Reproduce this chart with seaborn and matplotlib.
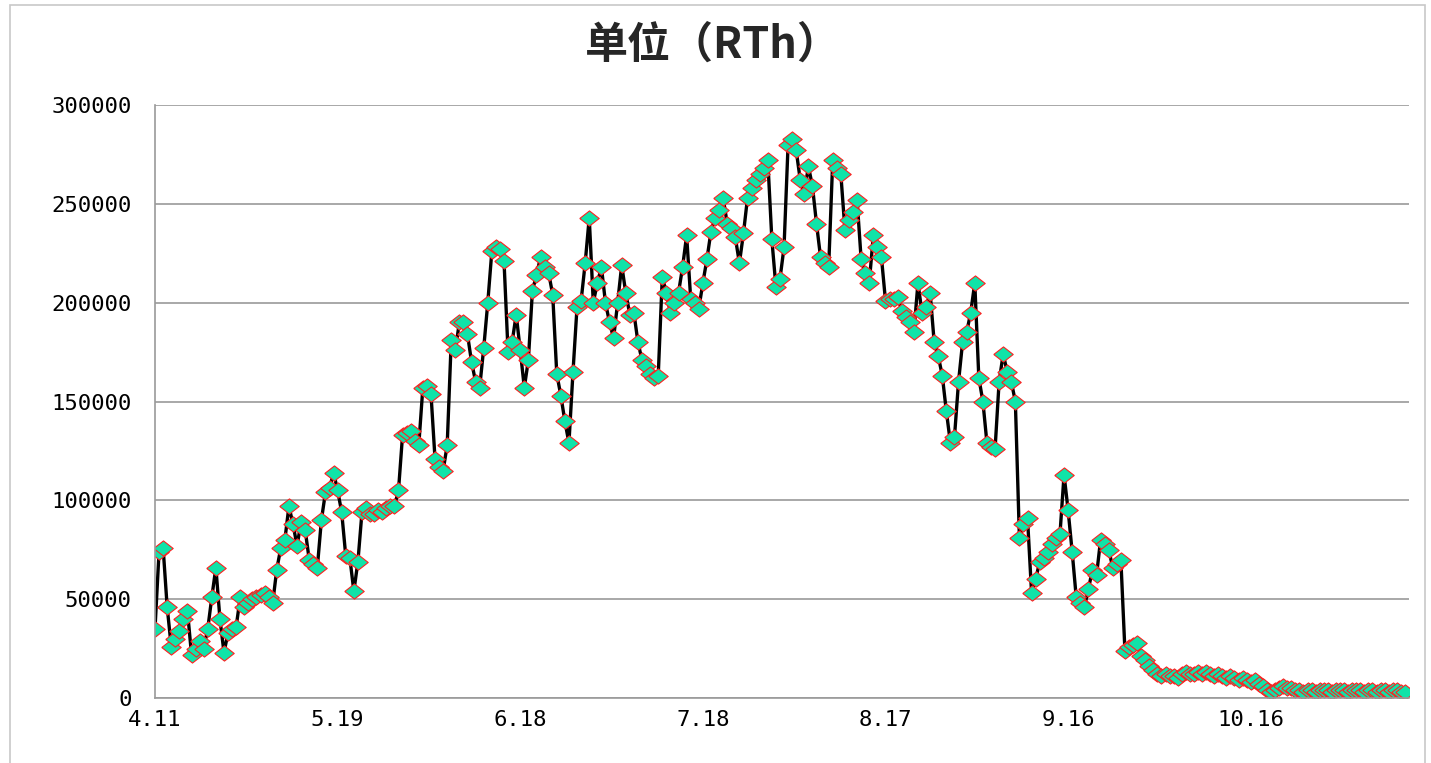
import numpy as np
import pandas as pd
import matplotlib
matplotlib.use("Agg")
import matplotlib.pyplot as plt
import seaborn as sns
from matplotlib.patches import Rectangle

# ---- data (values in thousands, RTh) ----
values_k = [
    35, 74, 76, 46, 26, 30, 34, 40, 44, 22,
    25, 29, 25, 35, 51, 66, 40, 23, 33, 35,
    36, 51, 46, 48, 50, 51, 52, 53, 51, 48,
    65, 76, 80, 97, 88, 77, 89, 85, 70, 68,
    66, 90, 104, 106, 114, 105, 94, 72, 71, 54,
    69, 94, 96, 93, 93, 95, 94, 96, 97, 97,
    105, 133, 134, 135, 130, 128, 157, 158, 154, 121,
    117, 115, 128, 181, 176, 190, 190, 184, 170, 160,
    157, 177, 200, 226, 228, 227, 221, 175, 180, 194,
    176, 157, 171, 206, 214, 223, 218, 215, 204, 164,
    153, 140, 129, 165, 198, 201, 220, 243, 200, 210,
    218, 200, 190, 182, 200, 219, 205, 194, 195, 180,
    171, 168, 164, 162, 163, 213, 205, 195, 200, 205,
    218, 234, 202, 200, 197, 210, 222, 236, 243, 247,
    253, 240, 238, 233, 220, 235, 253, 258, 262, 265,
    268, 272, 232, 208, 212, 228, 280, 283, 277, 262,
    255, 269, 259, 240, 223, 220, 218, 272, 268, 265,
    237, 242, 246, 252, 222, 215, 210, 234, 228, 223,
    201, 202, 202, 203, 196, 193, 190, 185, 210, 195,
    198, 205, 180, 173, 163, 145, 129, 132, 160, 180,
    185, 195, 210, 162, 150, 129, 127, 126, 160, 174,
    165, 160, 150, 81, 88, 91, 53, 60, 69, 71,
    74, 78, 81, 83, 113, 95, 74, 51, 48, 46,
    55, 65, 62, 80, 78, 75, 66, 68, 70, 24,
    26, 27, 28, 21, 19, 16, 14, 12, 11, 12,
    11, 11, 10, 12, 13, 12, 12, 13, 12, 13,
    12, 11, 12, 11, 10, 11, 10, 9, 10, 9,
    8, 9, 7, 6, 4, 3, 4, 5, 6, 5,
    5, 4, 4, 3, 4, 4, 3, 4, 4, 4,
    3, 4, 4, 4, 3, 4, 4, 4, 3, 4,
    4, 3, 4, 4, 3, 4, 4, 3, 3,
]
date_labels = ["4.11", "5.19", "6.18", "7.18", "8.17", "9.16", "10.16"]
label_positions = [0, 45, 90, 135, 180, 225, 270]
y_ticks = [0, 50000, 100000, 150000, 200000, 250000, 300000]
title_text = "单位（RTh）"

values = np.array(values_k) * 1000
df = pd.DataFrame({"idx": np.arange(len(values)), "val": values})

sns.set_style("white")
plt.rcParams["font.family"] = ["Noto Sans CJK SC", "DejaVu Sans"]

W, H = 1431, 763
fig = plt.figure(figsize=(W / 100, H / 100), dpi=100)
ax = fig.add_axes([155 / W, 1 - 698 / H, (1409 - 155) / W, (698 - 105) / H])

diamond = [(-1, 0), (0, 0.78), (1, 0), (0, -0.78), (-1, 0)]
sns.lineplot(data=df, x="idx", y="val", ax=ax, color="black", linewidth=2.4,
             marker=diamond, markersize=14, markerfacecolor="#10E3A8",
             markeredgecolor="#FF2020", markeredgewidth=0.8, errorbar=None)

grid_c = "#9A9A9A"
ax.set_ylim(0, 300000)
ax.set_xlim(0, len(values))
ax.set_yticks(y_ticks)
ax.set_yticklabels([str(v) for v in y_ticks])
ax.yaxis.grid(True, color=grid_c, linewidth=1.2)
ax.xaxis.grid(False)
ax.set_axisbelow(True)

xt = list(range(0, len(values), 15))
ax.set_xticks(xt)
ax.set_xticklabels([date_labels[label_positions.index(t)] if t in label_positions else "" for t in xt])

for s in ["top", "right"]:
    ax.spines[s].set_visible(False)
for s in ["left", "bottom"]:
    ax.spines[s].set_color(grid_c)
    ax.spines[s].set_linewidth(1.2)

ax.tick_params(axis="both", direction="out", length=5, width=1.2, color=grid_c,
               labelsize=16, labelcolor="black")
ax.tick_params(axis="y", pad=12)
ax.tick_params(axis="x", pad=4)
for lab in ax.get_xticklabels() + ax.get_yticklabels():
    lab.set_fontfamily("DejaVu Sans Mono")

ax.set_xlabel("")
ax.set_ylabel("")

fig.text(713 / W, 1 - 45 / H, title_text, ha="center", va="center",
         fontsize=31, fontweight="bold", family=["Noto Sans CJK SC", "DejaVu Sans"])

fig.add_artist(Rectangle((10 / W, -0.01), (1425 - 10) / W, 1 - 5 / H + 0.01,
                         transform=fig.transFigure, fill=False,
                         edgecolor="#C8C8C8", linewidth=1.2))

fig.savefig("out.png", dpi=100)
